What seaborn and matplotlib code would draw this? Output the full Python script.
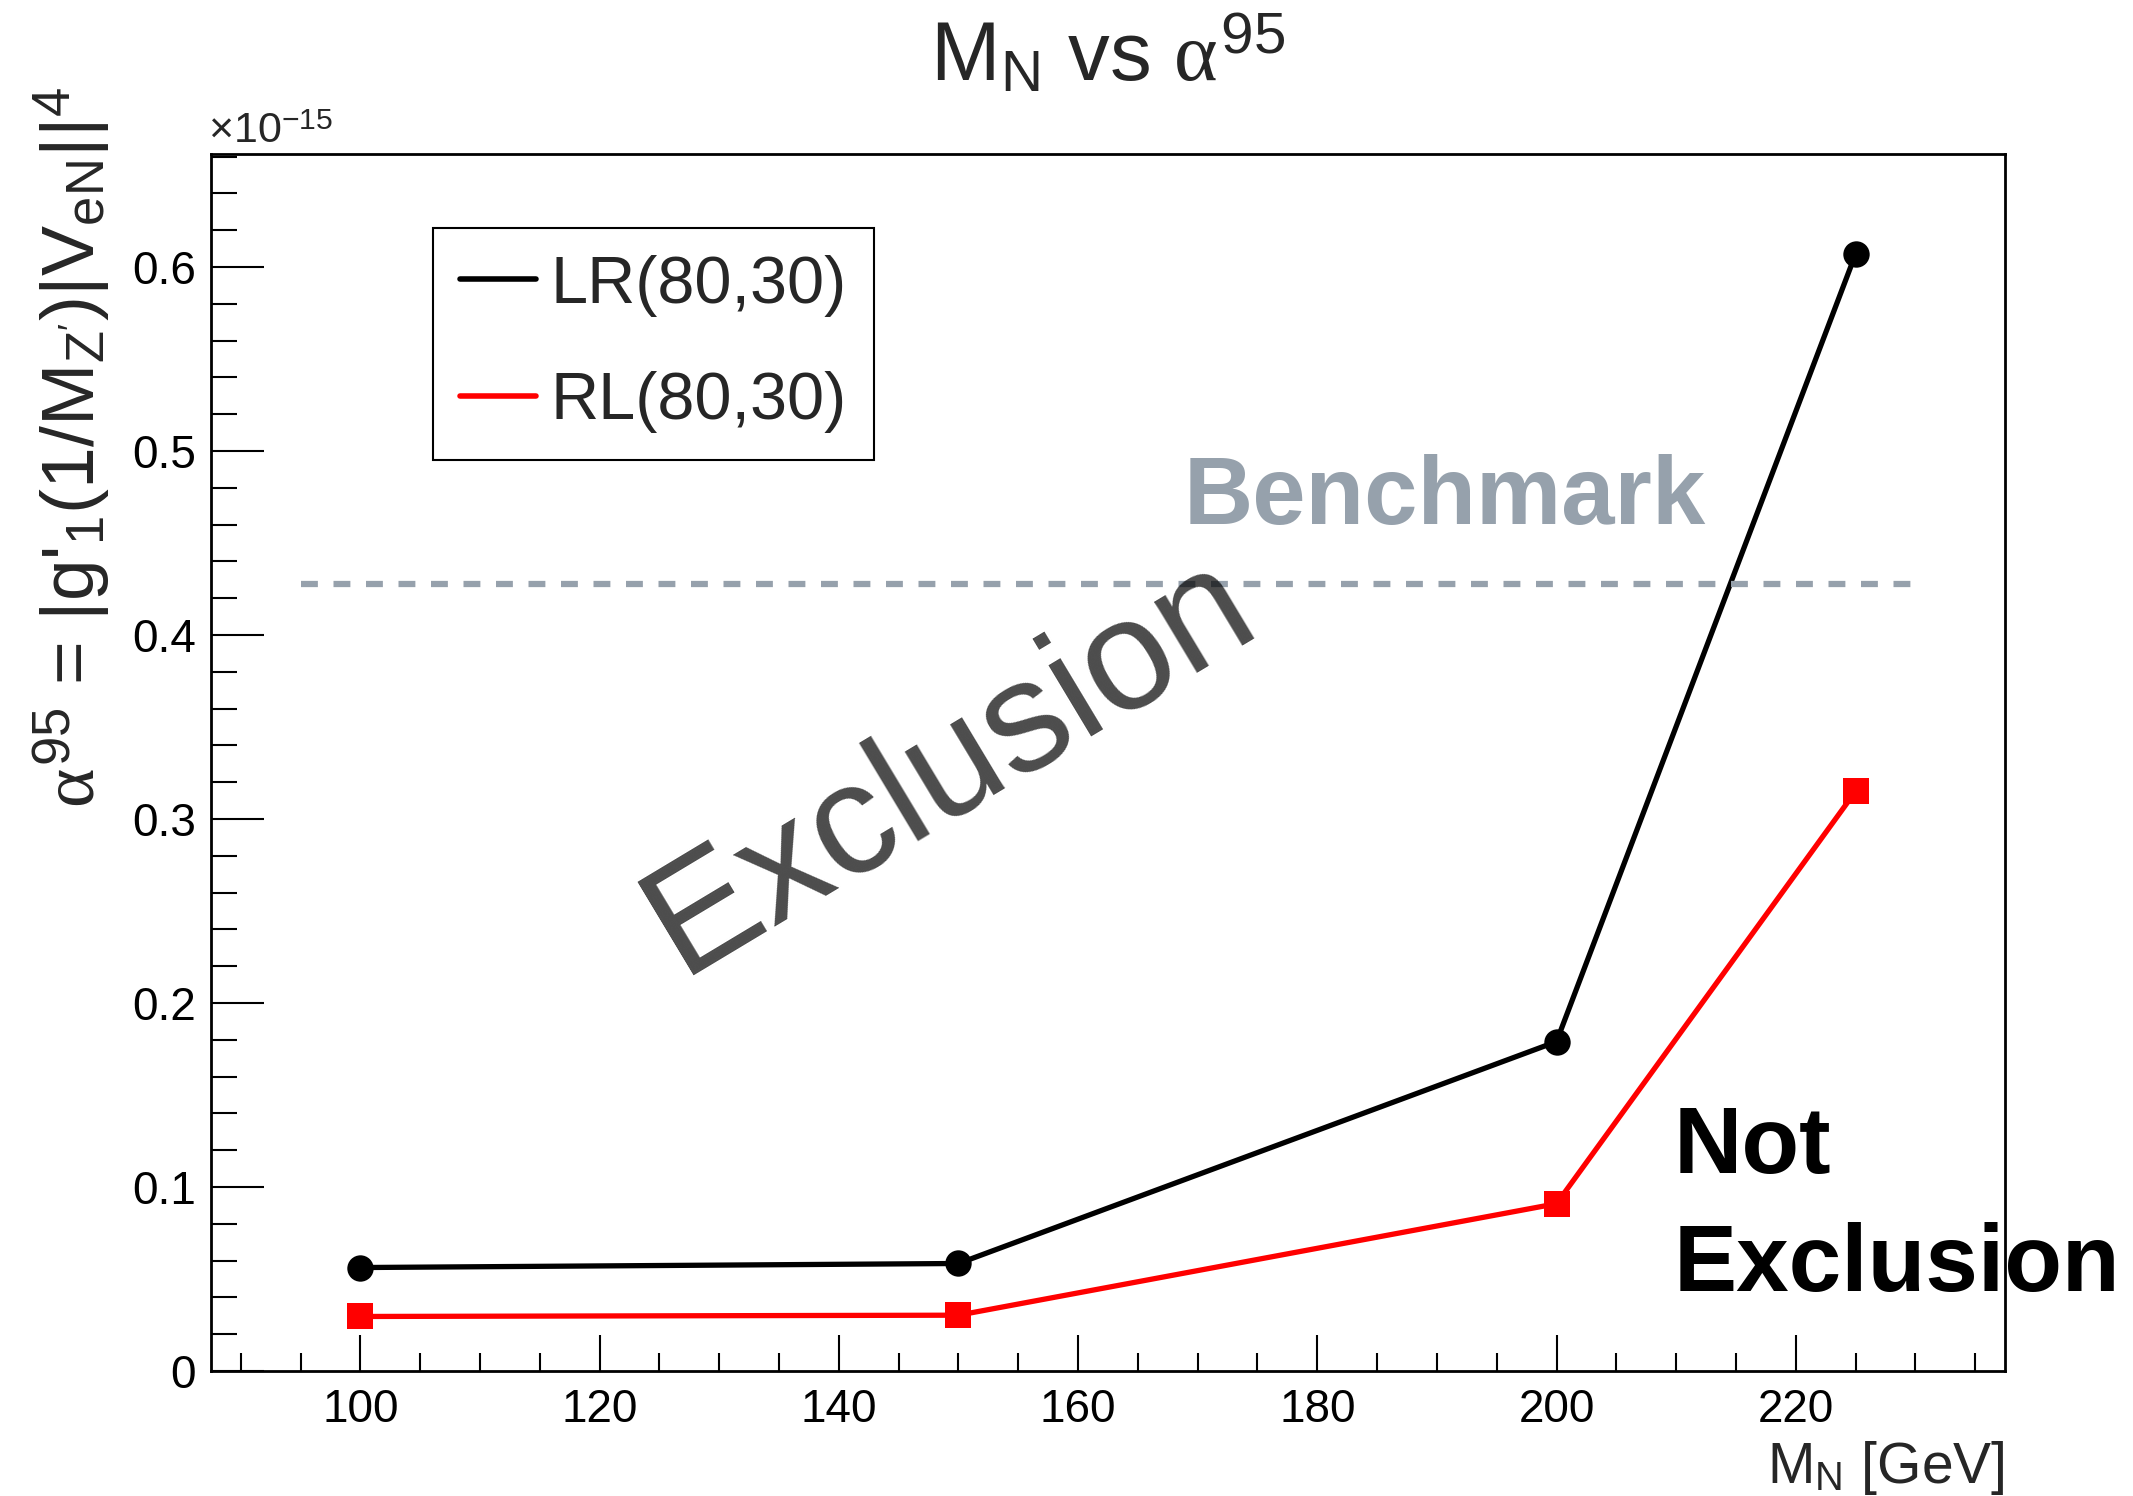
import matplotlib
matplotlib.use("Agg")
import matplotlib.pyplot as plt
from matplotlib.lines import Line2D
from matplotlib.ticker import MultipleLocator, FuncFormatter
import pandas as pd
import seaborn as sns

# valeurs (axe y en unites de 1e-15)
mass_gev = [100, 150, 200, 225]
alpha_lr = [0.0562, 0.0584, 0.179, 0.607]
alpha_rl = [0.0296, 0.0303, 0.0909, 0.315]
series_names = ["LR(80,30)", "RL(80,30)"]
series_colors = ["black", "red"]
series_markers = ["o", "s"]
benchmark_value = 0.428
benchmark_x = [95, 230]
bench_color = "#96a1ac"

sns.set_theme(style="ticks")
plt.rcParams["font.family"] = ["Liberation Sans", "DejaVu Sans"]
plt.rcParams["mathtext.fontset"] = "custom"
plt.rcParams["mathtext.rm"] = "Liberation Sans"
plt.rcParams["mathtext.it"] = "Liberation Serif"
plt.rcParams["mathtext.bf"] = "Liberation Sans:bold"

df = pd.DataFrame({
    "mass": mass_gev * 2,
    "alpha": alpha_lr + alpha_rl,
    "series": [n for n in series_names for _ in mass_gev],
})

fig = plt.figure(figsize=(21.33, 14.96), dpi=100, facecolor="white")
ax = fig.add_axes([0.0989, 0.0836, 0.8411, 0.8135])

sns.lineplot(data=df, x="mass", y="alpha", hue="series", style="series",
             palette=dict(zip(series_names, series_colors)),
             markers=dict(zip(series_names, series_markers)), dashes=False,
             linewidth=3.8, markersize=19, markeredgewidth=0, legend=False, ax=ax)

# ligne benchmark
ax.plot(benchmark_x, [benchmark_value] * 2, ls=(0, (2.7, 2.5)), color=bench_color, lw=4.5)

ax.set_xlim(87.5, 237.5)
ax.set_ylim(0, 0.6615)
ax.set_xlabel("")
ax.set_ylabel("")

ax.xaxis.set_major_locator(MultipleLocator(20))
ax.xaxis.set_minor_locator(MultipleLocator(5))
ax.yaxis.set_major_locator(MultipleLocator(0.1))
ax.yaxis.set_minor_locator(MultipleLocator(0.02))
ax.yaxis.set_major_formatter(FuncFormatter(lambda v, p: "0" if abs(v) < 1e-9 else f"{v:.1f}"))
ax.xaxis.set_major_formatter(FuncFormatter(lambda v, p: f"{v:.0f}"))

for s in ax.spines.values():
    s.set_linewidth(2)
    s.set_color("black")
    s.set_visible(True)

ax.tick_params(which="both", direction="in", top=False, right=False,
               width=1.5, colors="black", labelsize=33)
ax.tick_params(axis="y", which="major", length=38, pad=11)
ax.tick_params(axis="y", which="minor", length=19)
ax.tick_params(axis="x", which="major", length=26, pad=12)
ax.tick_params(axis="x", which="minor", length=13)

# legende
handles = [Line2D([], [], color=c, lw=4) for c in series_colors]
leg = ax.legend(handles, series_names, loc="upper left",
                bbox_to_anchor=(0.203, 0.8476), bbox_transform=fig.transFigure,
                borderaxespad=0, fontsize=48, handlelength=1.15, handletextpad=0.22,
                labelspacing=0.82, borderpad=0.4, fancybox=False, framealpha=1)
leg.get_frame().set_edgecolor("black")
leg.get_frame().set_linewidth(1.5)

# annotations
ax.text(168.8, 0.4605, "Benchmark", color=bench_color, fontsize=69,
        fontweight="bold", ha="left", va="baseline")
ax.text(149.3, 0.329, "Exclusion", color="black", alpha=0.7, fontsize=114,
        rotation=31, rotation_mode="anchor", ha="center", va="center")
ax.text(209.8, 0.1075, "Not", color="black", fontsize=68, fontweight="bold",
        ha="left", va="baseline", clip_on=False, zorder=2)
ax.text(209.8, 0.0435, "Exclusion", color="black", fontsize=68, fontweight="bold",
        ha="left", va="baseline", clip_on=False, zorder=2)

# titre et labels
fig.text(0.5195, 0.946, r"M$_{\mathrm{N}}$ vs $\alpha^{95}$", fontsize=60,
         ha="center", va="baseline")
fig.text(0.0975, 0.9044, r"$\times$10$^{-15}$", fontsize=31, ha="left", va="baseline")
fig.text(0.940, 0.0087, r"M$_{\mathrm{N}}$ [GeV]", fontsize=41, ha="right", va="baseline")
fig.text(0.034, 0.942,
         r"$\alpha^{95}$ = |g'$_{1}$(1/M$_{\mathrm{Z'}}$)|V$_{\mathrm{eN}}$||$^{4}$",
         fontsize=54, rotation=90, ha="center", va="top")

fig.savefig("out.png", dpi=100)
